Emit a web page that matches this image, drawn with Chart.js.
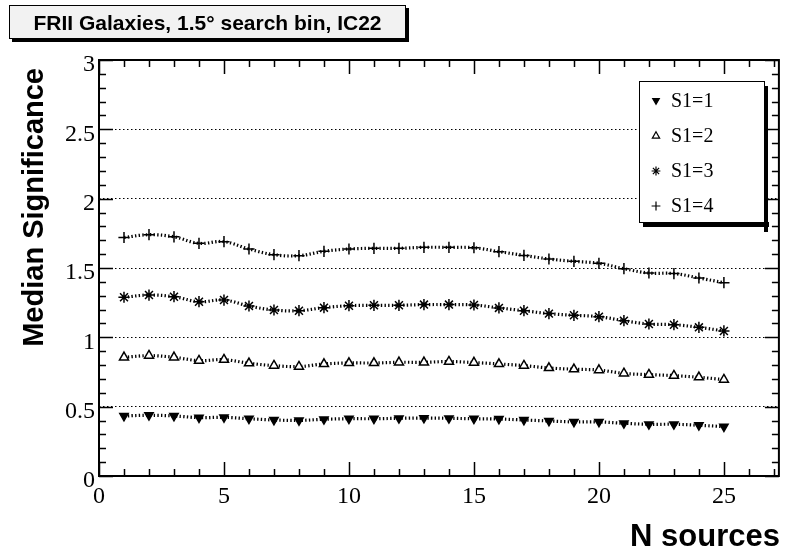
<!DOCTYPE html>
<html><head><meta charset="utf-8">
<script src="https://cdn.jsdelivr.net/npm/chart.js@4.4.1/dist/chart.umd.min.js"></script>
<style>html,body{margin:0;padding:0;background:#fff;}#wrap{width:786px;height:550px;position:relative;}</style>
</head><body><div id="wrap"><canvas id="c" width="786" height="550"></canvas></div>
<script>
const nSources = [1,2,3,4,5,6,7,8,9,10,11,12,13,14,15,16,17,18,19,20,21,22,23,24,25];
const seriesLabels = ['S1=1','S1=2','S1=3','S1=4'];
const sigS1 = [0.433,0.438,0.433,0.421,0.423,0.413,0.404,0.401,0.409,0.413,0.413,0.416,0.418,0.416,0.413,0.411,0.404,0.397,0.390,0.390,0.380,0.373,0.373,0.366,0.356];
const sigS2 = [0.856,0.868,0.856,0.832,0.839,0.813,0.796,0.789,0.808,0.815,0.815,0.820,0.820,0.825,0.818,0.808,0.796,0.779,0.770,0.764,0.740,0.731,0.724,0.712,0.695];
const sigS3 = [1.289,1.305,1.293,1.257,1.269,1.226,1.197,1.192,1.214,1.228,1.231,1.231,1.236,1.236,1.233,1.212,1.192,1.171,1.159,1.149,1.120,1.096,1.091,1.072,1.046];
const sigS4 = [1.720,1.740,1.725,1.678,1.690,1.637,1.596,1.589,1.620,1.637,1.642,1.642,1.649,1.649,1.646,1.618,1.591,1.565,1.548,1.534,1.495,1.464,1.460,1.428,1.394];
const xTickLabels = ['0','5','10','15','20','25'];
const yTickLabels = ['0','0.5','1','1.5','2','2.5','3'];
const chartTitle = 'FRII Galaxies, 1.5\u00b0 search bin, IC22';
const xAxisTitle = 'N sources';
const yAxisTitle = 'Median Significance';

const markerStyles = [
  {pointStyle:'triangle', rotation:180, radius:4.8, fill:'#000', legendRadius:3.8},
  {pointStyle:'triangle', rotation:0, radius:5.2, fill:'#fff', legendRadius:4.2},
  {pointStyle:'star', rotation:0, radius:5.6, fill:'#000', legendRadius:4.4},
  {pointStyle:'cross', rotation:0, radius:5.6, fill:'#000', legendRadius:4.4}
];
const seriesValues = [sigS1, sigS2, sigS3, sigS4];

const datasets = seriesValues.map((vals, k) => ({
  label: seriesLabels[k],
  data: nSources.map((x, i) => ({x: x, y: vals[i]})),
  borderColor: '#000',
  borderWidth: 3.2,
  borderDash: [1.4, 2.3],
  tension: 0.4,
  fill: false,
  pointStyle: markerStyles[k].pointStyle,
  pointRotation: markerStyles[k].rotation,
  pointRadius: markerStyles[k].radius,
  pointBackgroundColor: markerStyles[k].fill,
  pointBorderColor: '#000',
  pointBorderWidth: 1.5
}));

const SERIF = '"Liberation Serif", "Times New Roman", serif';
const SANS = '"Liberation Sans", Arial, sans-serif';

const decorPlugin = {
  id: 'decor',
  afterDatasetsDraw(chart) {
    const ctx = chart.ctx;
    const a = chart.chartArea;
    const xs = chart.scales.x, ys = chart.scales.y;
    ctx.save();
    ctx.strokeStyle = '#000';
    // ticks
    ctx.lineWidth = 1.5;
    ctx.beginPath();
    for (let v = 0; v <= 27; v++) {
      const px = Math.round(xs.getPixelForValue(v)) + 0.5;
      const len = (v % 5 === 0) ? 14 : 7;
      ctx.moveTo(px, a.bottom); ctx.lineTo(px, a.bottom - len);
      ctx.moveTo(px, a.top); ctx.lineTo(px, a.top + len);
    }
    for (let k = 0; k <= 30; k++) {
      const v = k / 10;
      const py = Math.round(ys.getPixelForValue(v)) + 0.5;
      const len = (k % 5 === 0) ? 14 : 7;
      ctx.moveTo(a.left, py); ctx.lineTo(a.left + len, py);
      ctx.moveTo(a.right, py); ctx.lineTo(a.right - len, py);
    }
    ctx.stroke();
    // frame
    ctx.lineWidth = 2;
    ctx.strokeRect(a.left, a.top, a.right - a.left, a.bottom - a.top);

    // legend
    const lx = 639, ly = 81, lw = 125, lh = 141;
    ctx.fillStyle = '#000';
    ctx.fillRect(lx + 4, ly + lh, lw + 1, 5);
    ctx.fillRect(lx + lw, ly + 5, 4, lh + 5);
    ctx.fillStyle = '#fff';
    ctx.fillRect(lx, ly, lw, lh);
    ctx.lineWidth = 1;
    ctx.strokeRect(lx + 0.5, ly + 0.5, lw, lh);
    const rowY = [100.5, 136, 171, 206];
    chart.data.datasets.forEach((ds, k) => {
      ctx.fillStyle = ds.pointBackgroundColor;
      ctx.strokeStyle = '#000';
      ctx.lineWidth = 1.2;
      Chart.helpers.drawPoint(ctx, {pointStyle: ds.pointStyle, rotation: ds.pointRotation, radius: markerStyles[k].legendRadius, borderWidth: 1.2}, 656, rowY[k]);
      ctx.fillStyle = '#000';
      ctx.font = '20px ' + SERIF;
      ctx.textAlign = 'left';
      ctx.textBaseline = 'middle';
      ctx.fillText(ds.label, 671, rowY[k] + 1);
    });

    // title box
    ctx.fillStyle = '#000';
    ctx.fillRect(12, 39, 397, 3);
    ctx.fillRect(406, 8, 3, 34);
    ctx.fillStyle = '#f2f2f2';
    ctx.fillRect(9, 5, 397, 34);
    ctx.lineWidth = 1;
    ctx.strokeStyle = '#000';
    ctx.strokeRect(9.5, 5.5, 396, 33);
    ctx.fillStyle = '#000';
    ctx.font = 'bold 21px ' + SANS;
    ctx.textAlign = 'center';
    ctx.textBaseline = 'alphabetic';
    ctx.fillText(chartTitle, 207.5, 30);

    // axis titles
    ctx.font = 'bold 31px ' + SANS;
    ctx.textAlign = 'right';
    ctx.fillText(xAxisTitle, 780, 546);
    ctx.save();
    ctx.translate(43, 68);
    ctx.rotate(-Math.PI / 2);
    ctx.font = 'bold 29px ' + SANS;
    ctx.textAlign = 'right';
    ctx.fillText(yAxisTitle, 0, 0);
    ctx.restore();
    ctx.restore();
  }
};

new Chart(document.getElementById('c'), {
  type: 'line',
  data: {datasets: datasets},
  options: {
    responsive: false,
    devicePixelRatio: 1,
    animation: false,
    events: [],
    layout: {padding: {top: 60, right: 2, left: 0, bottom: 0}},
    plugins: {legend: {display: false}, tooltip: {enabled: false}, title: {display: false}},
    scales: {
      x: {
        type: 'linear', min: 0, max: 27.2,
        afterFit(s) { s.height = 74; },
        grid: {display: false, drawTicks: false},
        border: {display: false},
        ticks: {stepSize: 5, includeBounds: false, autoSkip: false, maxRotation: 0, padding: 6,
          color: '#000', font: {family: SERIF, size: 24},
          callback: (v, i) => xTickLabels[i]}
      },
      y: {
        type: 'linear', min: 0, max: 3,
        afterFit(s) { s.width = 99; },
        grid: {display: true, drawTicks: false, lineWidth: 1,
          color: c => (c.tick && (c.tick.value === 0 || c.tick.value === 3)) ? 'rgba(0,0,0,0)' : '#000'},
        border: {display: false, dash: [1.5, 2.5]},
        ticks: {stepSize: 0.5, autoSkip: false, padding: 4, labelOffset: 5,
          color: '#000', font: {family: SERIF, size: 24},
          callback: (v, i) => yTickLabels[i]}
      }
    }
  },
  plugins: [decorPlugin]
});
</script></body></html>
